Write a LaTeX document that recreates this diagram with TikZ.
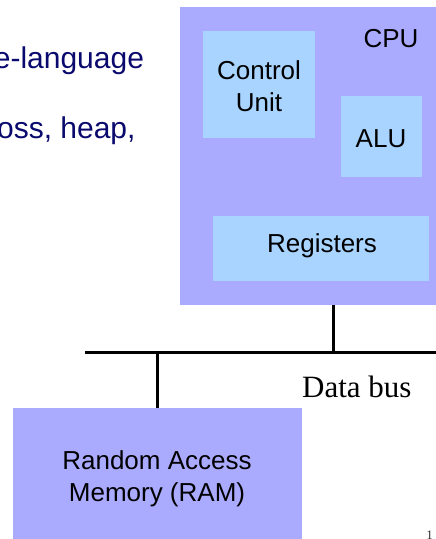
\documentclass[tikz,border=0pt]{standalone}
\usepackage{fontspec}
\setmainfont{Liberation Sans}
\newfontfamily\timesfont{Liberation Serif}
\definecolor{cpufill}{RGB}{170,170,255}
\definecolor{unitfill}{RGB}{168,212,255}
\definecolor{slideblue}{RGB}{10,10,110}
\begin{document}
\begin{tikzpicture}[x=1pt,y=-1pt,
  box/.style={draw=none,rectangle,inner sep=0pt,outer sep=0pt},
  lbl/.style={inner sep=0pt,outer sep=0pt,font=\fontsize{26}{32}\selectfont,align=center},
  slidetext/.style={inner sep=0pt,outer sep=0pt,text=slideblue,font=\fontsize{30}{36}\selectfont},
  busline/.style={line width=3pt,line cap=butt}]
\useasboundingbox (0,0) rectangle (436,539);
% CPU
\node[box,fill=cpufill,minimum width=256pt,minimum height=298pt] (cpu) at (308,156) {};
\node[box,fill=unitfill,minimum width=112pt,minimum height=107pt] (cu) at (259,84.5) {};
\node[box,fill=unitfill,minimum width=81pt,minimum height=81pt] (alu) at (381.5,136.5) {};
\node[box,fill=unitfill,minimum width=216pt,minimum height=65pt] (reg) at (321,248.5) {};
\node[lbl,anchor=base] (cpulbl) at (391,47) {CPU};
\node[lbl] (culbl) at (259,86.5) {Control\\Unit};
\node[lbl,anchor=base] (alulbl) at (381,147) {ALU};
\node[lbl,anchor=base] (reglbl) at (322,252) {Registers};
% RAM
\node[box,fill=cpufill,minimum width=289pt,minimum height=131pt] (ram) at (157.5,473.5) {};
\node[lbl] (ramlbl) at (157,478.5) {Random Access\\Memory (RAM)};
% bus
\coordinate (busL) at (85,352);
\coordinate (busR) at (436,352);
\coordinate (jcpu) at (333,352);
\draw[busline] (busL) -- (busR);
\draw[busline] (jcpu) -- (jcpu |- cpu.south);
\draw[busline] (ram.north) -- (ram.north |- busL);
\node[inner sep=0pt,anchor=base west,font=\timesfont\fontsize{31}{36}\selectfont] (buslbl) at (302,397) {Data bus};
% slide text
\node[slidetext,anchor=base east] (t1) at (144,68) {e-language};
\node[slidetext,anchor=base east] (t2) at (135.5,138) {oss, heap,};
\node[inner sep=0pt,anchor=base,text=black!80,font=\timesfont\fontsize{13}{15}\selectfont] (pgnum) at (429.5,539.5) {1};
\end{tikzpicture}
\end{document}
